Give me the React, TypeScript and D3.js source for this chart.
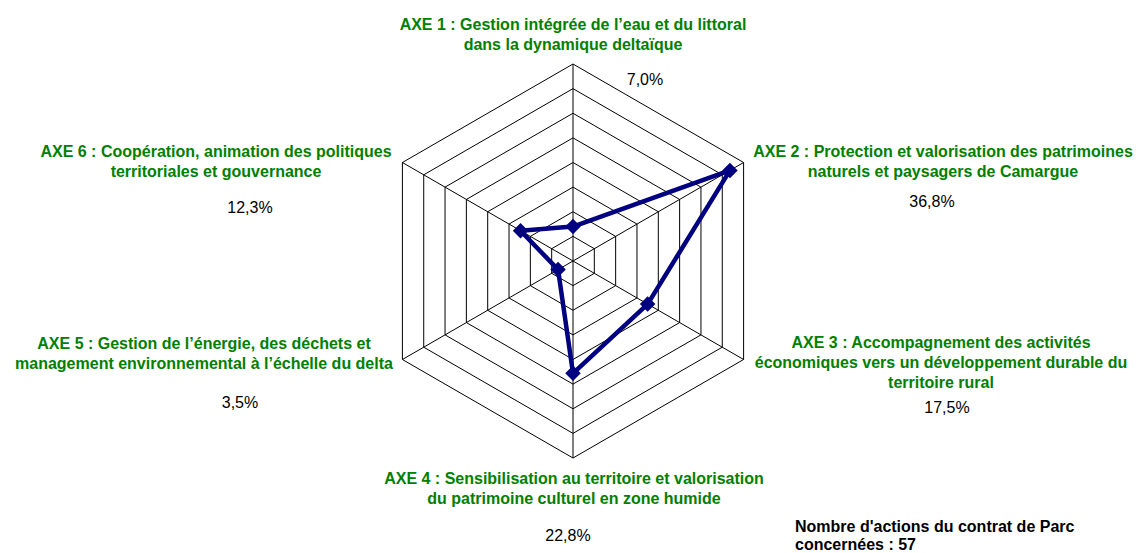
import React, { useRef, useEffect } from "react";
import * as d3 from "d3";

const axisLabels: string[][] = [
  ["AXE 1 : Gestion intégrée de l’eau et du littoral", "dans la dynamique deltaïque"],
  ["AXE 2 : Protection et valorisation des patrimoines", "naturels et paysagers de Camargue"],
  ["AXE 3 : Accompagnement des activités", "économiques vers un développement durable du", "territoire rural"],
  ["AXE 4 : Sensibilisation au territoire et valorisation", "du patrimoine culturel en zone humide"],
  ["AXE 5 : Gestion de l’énergie, des déchets et", "management environnemental à l’échelle du delta"],
  ["AXE 6 : Coopération, animation des politiques", "territoriales et gouvernance"],
];
const shares: number[] = [7.0, 36.8, 17.5, 22.8, 3.5, 12.3];
const shareLabels: string[] = ["7,0%", "36,8%", "17,5%", "22,8%", "3,5%", "12,3%"];
const scaleMax = 40;
const footnote: string[] = ["Nombre d'actions du contrat de Parc", "concernées : 57"];

// label anchor positions (centre x, first baseline y) and value label positions
const labelPos = [
  { x: 573, y: 30, vx: 645, vy: 85 },
  { x: 943, y: 157, vx: 932, vy: 207 },
  { x: 941, y: 348, vx: 947, vy: 413 },
  { x: 574, y: 484, vx: 568, vy: 541 },
  { x: 204, y: 349, vx: 240, vy: 408 },
  { x: 216, y: 157, vx: 250, vy: 213 },
];

export default function App() {
  const ref = useRef<SVGSVGElement>(null);

  useEffect(() => {
    const width = 1139;
    const height = 553;
    const cx = 573;
    const cy = 261;
    const radius = 197;

    const svg = d3.select(ref.current);
    svg.selectAll("*").remove();
    svg.attr("width", width).attr("height", height);

    const r = d3.scaleLinear().domain([0, scaleMax]).range([0, radius]);
    const angle = d3
      .scaleLinear()
      .domain([0, shares.length])
      .range([0, 2 * Math.PI]);

    const pt = (i: number, v: number): [number, number] => [
      cx + r(v) * Math.sin(angle(i)),
      cy - r(v) * Math.cos(angle(i)),
    ];

    const g = svg.append("g");

    // rings
    const ticks = r.ticks(8).filter((t) => t > 0);
    const line = d3.line();
    ticks.forEach((t) => {
      const pts = shares.map((_, i) => pt(i, t));
      g.append("path")
        .attr("d", line(pts) + "Z")
        .attr("fill", "none")
        .attr("stroke", "#000")
        .attr("stroke-width", 1);
    });

    // spokes
    shares.forEach((_, i) => {
      const [x, y] = pt(i, scaleMax);
      g.append("line")
        .attr("x1", cx)
        .attr("y1", cy)
        .attr("x2", x)
        .attr("y2", y)
        .attr("stroke", "#000")
        .attr("stroke-width", 1);
    });

    // series
    const seriesPts = shares.map((v, i) => pt(i, v));
    g.append("path")
      .attr("d", line(seriesPts) + "Z")
      .attr("fill", "none")
      .attr("stroke", "#000080")
      .attr("stroke-width", 4.5)
      .attr("stroke-linejoin", "round");

    const marker = d3.symbol().type(d3.symbolSquare).size(120);
    g.selectAll("path.mk")
      .data(seriesPts)
      .enter()
      .append("path")
      .attr("class", "mk")
      .attr("d", marker)
      .attr("transform", (d) => `translate(${d[0]},${d[1]}) rotate(45)`)
      .attr("fill", "#000080");

    // axis labels
    axisLabels.forEach((lines, i) => {
      const p = labelPos[i];
      const t = g
        .append("text")
        .attr("text-anchor", "middle")
        .attr("font-family", "Liberation Sans, Arial, sans-serif")
        .attr("font-weight", "bold")
        .attr("font-size", 16)
        .attr("fill", "#008000");
      lines.forEach((s, k) => {
        t.append("tspan").attr("x", p.x).attr("y", p.y + k * 20).text(s);
      });
      g.append("text")
        .attr("x", p.vx)
        .attr("y", p.vy)
        .attr("text-anchor", "middle")
        .attr("font-family", "Liberation Sans, Arial, sans-serif")
        .attr("font-size", 16)
        .attr("fill", "#000")
        .text(shareLabels[i]);
    });

    // footnote
    const f = g
      .append("text")
      .attr("font-family", "Liberation Sans, Arial, sans-serif")
      .attr("font-weight", "bold")
      .attr("font-size", 16)
      .attr("fill", "#000");
    footnote.forEach((s, k) => {
      f.append("tspan").attr("x", 795).attr("y", 532 + k * 18).text(s);
    });
  }, []);

  return (
    <svg
      ref={ref}
      style={{ position: "absolute", left: 0, top: 0, background: "#fff" }}
    ></svg>
  );
}
